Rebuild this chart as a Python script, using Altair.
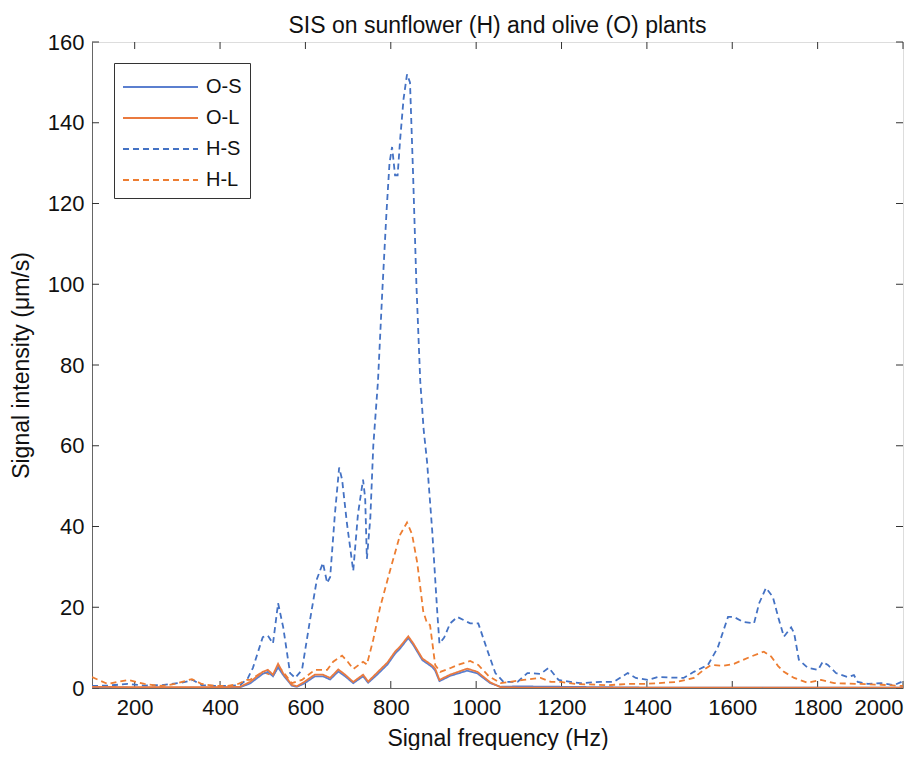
import altair as alt
import pandas as pd

# ---- data ----
series_order = ["O-S", "O-L", "H-S", "H-L"]

o_freq = [100, 200, 300, 400, 447, 470, 500, 512, 524, 536, 548, 568, 580, 597, 622,
          641, 658, 677, 693, 712, 735, 747, 768, 792, 810, 822, 841, 853, 874, 897,
          904, 914, 939, 979, 1003, 1033, 1057, 1100, 1200, 1400, 1600, 1800, 2000]
os_val = [0.2, 0.1, 0.1, 0.1, 0.2, 1.1, 3.5, 4, 2.9, 5.1, 3.2, 0.6, 0.3, 1.1, 2.9,
          2.9, 2.1, 4.1, 2.9, 1.2, 2.9, 1.3, 3.3, 5.8, 8.5, 9.8, 12.4, 10.6, 6.9, 5.2,
          4.3, 1.7, 3, 4.3, 3.6, 1.2, 0.3, 0.4, 0.3, 0.1, 0.1, 0.1, 0.1]
ol_val = [0.3, 0.2, 0.2, 0.2, 0.3, 1.5, 4, 4.5, 3.3, 6, 3.6, 0.8, 0.4, 1.5, 3.3,
          3.3, 2.5, 4.6, 3.3, 1.5, 3.3, 1.6, 3.8, 6.3, 9, 10.3, 12.8, 11, 7.3, 5.6,
          4.8, 2, 3.3, 4.8, 4, 1.4, 0.2, 0.1, 0.1, 0.1, 0.1, 0.1, 0.1]

hs_freq = [100, 137, 184, 223, 263, 310, 336, 357, 388, 418, 447, 465, 477, 500, 512,
           524, 536, 548, 564, 576, 592, 611, 627, 641, 651, 658, 669, 679, 686, 697,
           712, 723, 735, 740, 744, 752, 759, 770, 780, 790, 797, 803, 810, 816, 822,
           830, 838, 845, 852, 860, 869, 877, 885, 897, 909, 914, 925, 939, 956, 986,
           1005, 1026, 1045, 1064, 1097, 1120, 1151, 1170, 1193, 1209, 1244, 1291, 1322, 1355, 1374,
           1402, 1425, 1486, 1510, 1543, 1566, 1590, 1604, 1625, 1651, 1663, 1679, 1695, 1709, 1721,
           1738, 1745, 1756, 1777, 1801, 1812, 1824, 1843, 1871, 1885, 1894, 1918, 1949, 1979, 2000]
hs_val = [0.5, 0.6, 1, 0.6, 0.7, 1.3, 2, 0.7, 0.5, 0.5, 0.7, 2.4, 5, 12.6, 13,
          11, 21, 15, 3.7, 2.5, 4.5, 17, 27, 31, 26, 27.5, 43, 54.6, 51.6, 41,
          29, 43, 51.6, 47, 32, 42, 60, 76, 98, 118, 130, 134, 127, 127, 136,
          146, 152, 150, 128, 100, 76, 64, 56, 39, 18.6, 11, 12.5, 16, 17.6, 16,
          16, 9.4, 3.7, 1.5, 1.5, 3.7, 3.5, 5, 2, 1.7, 1.2, 1.5, 1.5, 3.7, 2.5,
          2, 2.7, 2.5, 4, 5.7, 10, 17.6, 17.6, 16.4, 16, 21, 24.8, 22.6, 17, 12.7,
          15, 13.6, 7, 5, 4.5, 6.5, 5.7, 3.7, 2.7, 3.2, 1.5, 1, 1.2, 0.7, 1.7]

hl_freq = [100, 137, 184, 223, 263, 294, 334, 357, 388, 418, 442, 463, 470, 500, 524,
           536, 548, 568, 592, 622, 651, 665, 686, 697, 712, 735, 744, 759, 775, 798,
           822, 838, 850, 862, 876, 885, 892, 904, 916, 939, 956, 986, 1005, 1029, 1057,
           1111, 1151, 1175, 1198, 1233, 1310, 1355, 1395, 1470, 1510, 1533, 1550, 1580, 1604, 1644,
           1674, 1691, 1707, 1721, 1745, 1777, 1808, 1839, 1900, 1950, 2000]
hl_val = [2.7, 1, 2, 1, 0.5, 1, 2.2, 1, 0.5, 0.5, 1, 2, 2, 4, 3,
          5.3, 4, 1.2, 2, 4.5, 4.5, 6.5, 8, 6.8, 4.7, 6.5, 5.8, 12, 20, 29,
          38, 41, 38, 31, 19, 16, 15.6, 5.7, 4, 4.9, 5.7, 6.7, 5.7, 3, 1.2,
          2, 2.5, 1.5, 1.5, 1, 0.7, 1, 1, 1.5, 2.5, 4.5, 5.7, 5.5, 6, 7.8,
          9, 7.8, 5.5, 4, 2.5, 1.3, 2, 1.2, 1, 0.8, 0.5]

x_ticks = [200, 400, 600, 800, 1000, 1200, 1400, 1600, 1800, 2000]
y_ticks = [0, 20, 40, 60, 80, 100, 120, 140, 160]

# ---- build table ----
frames = []
for name, fr, vals in [("H-S", hs_freq, hs_val), ("H-L", hl_freq, hl_val),
                       ("O-S", o_freq, os_val), ("O-L", o_freq, ol_val)]:
    frames.append(pd.DataFrame({"f": fr, "v": vals, "series": name}))
df = pd.concat(frames, ignore_index=True)
df["ord"] = df["series"].map({"H-S": 0, "H-L": 1, "O-S": 2, "O-L": 3})

W, H = 811, 646
FONT = "Liberation Sans"
AX = "#666666"

xscale = alt.Scale(domain=[100, 2000], nice=False, zero=False)
yscale = alt.Scale(domain=[0, 160], nice=False)

xaxis = alt.Axis(values=x_ticks, grid=False, ticks=False, title="Signal frequency (Hz)",
                 format="d", labelOverlap=False,
                 labelFontSize=22, titleFontSize=23, labelPadding=9, titlePadding=9,
                 domainColor=AX, labelColor="#111111", titleColor="#111111",
                 labelFont=FONT, titleFont=FONT, titleFontWeight="normal")
yaxis = alt.Axis(values=y_ticks, grid=False, ticks=False, title="Signal intensity (μm/s)",
                 labelFontSize=22, titleFontSize=23, labelPadding=8, titlePadding=14,
                 domainColor=AX, labelColor="#111111", titleColor="#111111",
                 labelFont=FONT, titleFont=FONT, titleFontWeight="normal")

colors = ["#5b7fcf", "#ea7a3f", "#4472C4", "#ED7D31"]
dashes = [[1, 0], [1, 0], [6, 4], [6, 4]]

legend_kw = dict(title=None, orient="none", legendX=22, legendY=21,
                 fillColor="white", strokeColor="#333333", padding=8,
                 labelFontSize=20, labelFont=FONT, labelColor="#111111",
                 symbolType="M-1,0H4", symbolSize=900, symbolStrokeWidth=1.6,
                 rowPadding=5, labelOffset=52)

lines = alt.Chart(df).mark_line(clip=True).encode(
    x=alt.X("f:Q", scale=xscale, axis=xaxis),
    y=alt.Y("v:Q", scale=yscale, axis=yaxis),
    color=alt.Color("series:N", scale=alt.Scale(domain=series_order, range=colors),
                    legend=alt.Legend(**legend_kw)),
    strokeDash=alt.StrokeDash("series:N", scale=alt.Scale(domain=series_order, range=dashes),
                              legend=alt.Legend(**legend_kw)),
    strokeWidth=alt.StrokeWidth("series:N",
                                scale=alt.Scale(domain=series_order, range=[1.8, 1.8, 1.5, 1.5]),
                                legend=None),
    order=alt.Order("ord:Q"),
)

xt = pd.DataFrame({"f": x_ticks})
yt = pd.DataFrame({"v": y_ticks})
tick_bottom = alt.Chart(xt).mark_rule(color="#333333", strokeWidth=1).encode(
    x=alt.X("f:Q", scale=xscale), y=alt.value(H), y2=alt.value(H - 7))
tick_top = alt.Chart(xt).mark_rule(color="#333333", strokeWidth=1).encode(
    x=alt.X("f:Q", scale=xscale), y=alt.value(0), y2=alt.value(7))
tick_left = alt.Chart(yt).mark_rule(color="#333333", strokeWidth=1).encode(
    y=alt.Y("v:Q", scale=yscale), x=alt.value(0), x2=alt.value(7))
tick_right = alt.Chart(yt).mark_rule(color="#333333", strokeWidth=1).encode(
    y=alt.Y("v:Q", scale=yscale), x=alt.value(W), x2=alt.value(W - 7))

chart = alt.layer(tick_bottom, tick_top, tick_left, tick_right, lines).properties(
    width=W, height=H,
    title=alt.Title("SIS on sunflower (H) and olive (O) plants", fontSize=23, font=FONT,
                    fontWeight="normal", color="#111111", offset=9, dy=16, frame="group"),
    autosize=alt.AutoSizeParams(type="none"),
    padding={"left": 84, "top": 34, "right": 12, "bottom": 62},
).configure_view(
    stroke=AX, strokeWidth=1
).configure(background="white")

chart.save("out.html", embed_options={"renderer": "svg", "actions": False})
